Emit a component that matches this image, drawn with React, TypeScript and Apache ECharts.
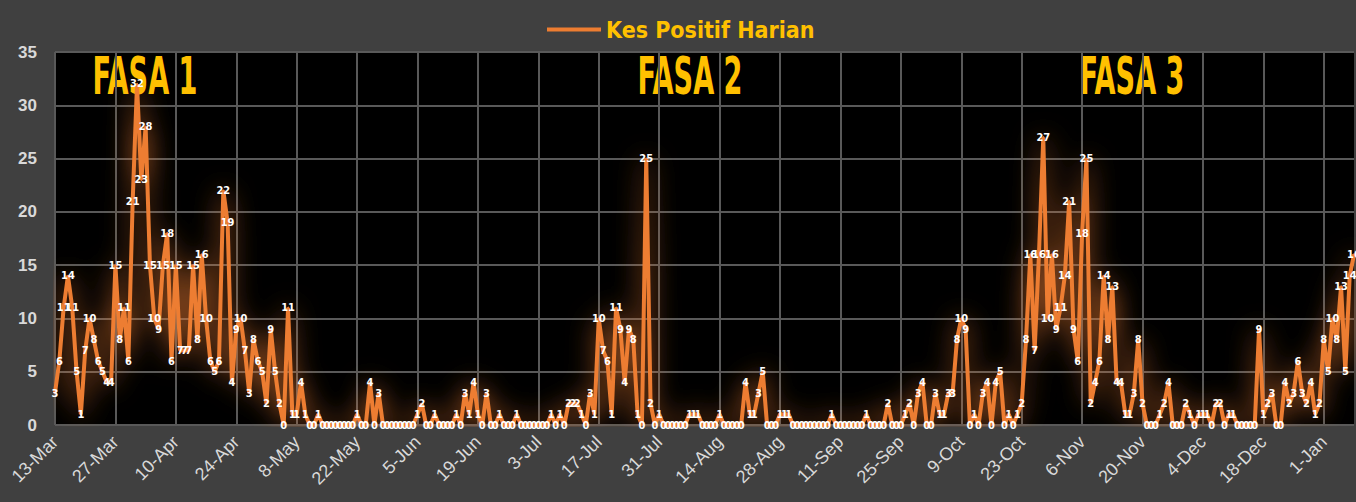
import React, { useEffect, useRef } from "react";
import * as echarts from "echarts";

const MONTHS = ["Jan", "Feb", "Mar", "Apr", "May", "Jun", "Jul", "Aug", "Sep", "Oct", "Nov", "Dec"];
const START_YEAR = 2020;
const START_MONTH_INDEX = 2;
const START_DAY = 13;
const SERIES_NAME = "Kes Positif Harian";
const PHASE_LABELS = ["FASA 1", "FASA 2", "FASA 3"];
const Y_MIN = 0;
const Y_MAX = 35;
const Y_STEP = 5;
const X_LABEL_EVERY = 14;

// Daily new positive cases, 13-Mar-2020 .. 8-Jan-2021
const CASES_MAR_APR = [
  3, 6, 11, 14, 11, 5, 1, 7, 10, 8, 6, 5, 4, 4,
  15, 8, 11, 6, 21, 32, 23, 28, 15, 10, 9, 15, 18, 6,
  15, 7, 7, 7, 15, 8, 16, 10, 6, 5, 6, 22, 19, 4,
];
const CASES_APR_JUN = [
  9, 10, 7, 3, 8, 6, 5, 2, 9, 5, 2, 0, 11, 1,
  1, 4, 1, 0, 0, 1, 0, 0, 0, 0, 0, 0, 0, 0,
  1, 0, 0, 4, 0, 3, 0, 0, 0, 0, 0, 0, 0, 0,
];
const CASES_JUN_JUL = [
  1, 2, 0, 0, 1, 0, 0, 0, 0, 1, 0, 3, 1, 4,
  1, 0, 3, 0, 0, 1, 0, 0, 0, 1, 0, 0, 0, 0,
  0, 0, 0, 1, 0, 1, 0, 2, 2, 2, 1, 0, 3, 1,
];
const CASES_JUL_SEP = [
  10, 7, 6, 1, 11, 9, 4, 9, 8, 1, 0, 25, 2, 0,
  1, 0, 0, 0, 0, 0, 0, 1, 1, 1, 0, 0, 0, 0,
  1, 0, 0, 0, 0, 0, 4, 1, 1, 3, 5, 0, 0, 0,
];
const CASES_SEP_OCT = [
  1, 1, 1, 0, 0, 0, 0, 0, 0, 0, 0, 0, 1, 0,
  0, 0, 0, 0, 0, 0, 1, 0, 0, 0, 0, 2, 0, 0,
  0, 1, 2, 0, 3, 4, 0, 0, 3, 1, 1, 3, 3, 8,
];
const CASES_OCT_DEC = [
  10, 9, 0, 1, 0, 3, 4, 0, 4, 5, 0, 1, 0, 1,
  2, 8, 16, 7, 16, 27, 10, 16, 9, 11, 14, 21, 9, 6,
  18, 25, 2, 4, 6, 14, 8, 13, 4, 4, 1, 1, 3, 8,
];
const CASES_DEC_JAN = [
  2, 0, 0, 0, 1, 2, 4, 0, 0, 0, 2, 1, 0, 1,
  1, 1, 0, 2, 2, 0, 1, 1, 0, 0, 0, 0, 0, 9,
  1, 2, 3, 0, 0, 4, 2, 3, 6, 3, 2, 4, 1, 2,
  8, 5, 10, 8, 13, 5, 14, 16,
];

const DAILY_CASES = [
  ...CASES_MAR_APR,
  ...CASES_APR_JUN,
  ...CASES_JUN_JUL,
  ...CASES_JUL_SEP,
  ...CASES_SEP_OCT,
  ...CASES_OCT_DEC,
  ...CASES_DEC_JAN,
];

function buildDateLabels(n: number): string[] {
  const out: string[] = [];
  for (let i = 0; i < n; i++) {
    const d = new Date(Date.UTC(START_YEAR, START_MONTH_INDEX, START_DAY + i));
    out.push(`${d.getUTCDate()}-${MONTHS[d.getUTCMonth()]}`);
  }
  return out;
}

const DATE_LABELS = buildDateLabels(DAILY_CASES.length);

const COND = "'DejaVu Sans Condensed', 'Liberation Sans Narrow', 'Roboto Condensed', 'Open Sans', sans-serif";

export default function App() {
  const ref = useRef<HTMLDivElement>(null);

  useEffect(() => {
    if (!ref.current) return;
    const chart = echarts.init(ref.current, undefined, { renderer: "svg" });
    const phaseX = [145, 690, 1132];
    chart.setOption({
      animation: false,
      backgroundColor: "#404040",
      textStyle: { fontFamily: COND },
      legend: {
        data: [SERIES_NAME],
        top: 13,
        left: 542,
        icon: "rect",
        itemWidth: 54,
        itemHeight: 4,
        itemGap: 10,
        textStyle: { color: "#FFC000", fontSize: 23, fontWeight: "bold", fontFamily: COND },
      },
      grid: {
        left: 55,
        right: 2,
        top: 52,
        bottom: 77,
        show: true,
        backgroundColor: "#000000",
        borderWidth: 0,
      },
      xAxis: {
        type: "category",
        data: DATE_LABELS,
        boundaryGap: false,
        axisLine: { show: false },
        axisTick: { show: false },
        axisLabel: {
          interval: X_LABEL_EVERY - 1,
          rotate: 45,
          color: "#D9D9D9",
          fontSize: 18,
          fontFamily: "'Liberation Sans', sans-serif",
          margin: 14,
        },
        splitLine: { show: true, interval: X_LABEL_EVERY - 1, lineStyle: { color: "#595959", width: 2 } },
      },
      yAxis: {
        type: "value",
        min: Y_MIN,
        max: Y_MAX,
        interval: Y_STEP,
        axisLine: { show: false },
        axisTick: { show: false },
        axisLabel: { color: "#D9D9D9", fontSize: 17, fontWeight: "bold", margin: 18, fontFamily: "'Liberation Sans', sans-serif" },
        splitLine: { lineStyle: { color: "#595959", width: 2 } },
      },
      series: [
        {
          type: "line",
          name: SERIES_NAME,
          data: DAILY_CASES,
          showSymbol: true,
          showAllSymbol: true,
          symbol: "circle",
          symbolSize: 2,
          itemStyle: { color: "#ED7D31" },
          lineStyle: { color: "#ED7D31", width: 4, shadowBlur: 26, shadowColor: "rgba(237,125,49,0.85)" },
          label: { show: true, position: "inside", color: "#FFFFFF", fontSize: 11, fontWeight: "bold", fontFamily: COND },
          emphasis: { disabled: true },
        },
      ],
      graphic: PHASE_LABELS.map((t, i) => ({
        type: "text",
        x: phaseX[i],
        y: 76,
        scaleX: 0.58,
        style: {
          text: t,
          fill: "#FFC000",
          font: `bold 52px ${COND}`,
          textAlign: "center",
          textVerticalAlign: "middle",
        },
      })),
    });
    return () => chart.dispose();
  }, []);

  return <div ref={ref} style={{ position: "fixed", left: 0, top: 0, width: 1356, height: 502 }} />;
}
